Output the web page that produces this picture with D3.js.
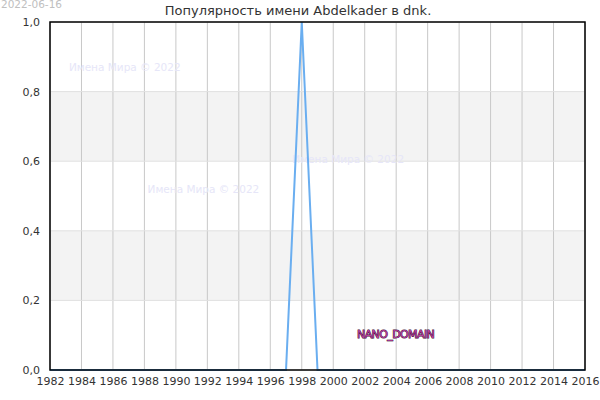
<!DOCTYPE html>
<html>
<head>
<meta charset="utf-8">
<script src="https://cdn.jsdelivr.net/npm/d3@7"></script>
<style>
    body { margin: 0; background: #fff; }
    svg text { font-family: "DejaVu Sans", sans-serif; }
</style>
</head>
<body>
<svg id="chart" width="600" height="400"></svg>
<script>
// data
let years = [1982, 1983, 1984, 1985, 1986, 1987, 1988, 1989, 1990, 1991, 1992, 1993, 1994, 1995,
    1996, 1997, 1998, 1999, 2000, 2001, 2002, 2003, 2004, 2005, 2006, 2007, 2008, 2009, 2010,
    2011, 2012, 2013, 2014, 2015, 2016];
let values = [0, 0, 0, 0, 0, 0, 0, 0, 0, 0, 0, 0, 0, 0,
    0, 0, 1, 0, 0, 0, 0, 0, 0, 0, 0, 0, 0, 0, 0,
    0, 0, 0, 0, 0, 0];
let xTicks = d3.range(1982, 2017, 2);
let yTicks = [0, 0.2, 0.4, 0.6, 0.8, 1.0];
let bands = [[0.2, 0.4], [0.6, 0.8]];
let watermarks = [
    {text: "Имена Мира © 2022", year: 1983.2, value: 0.86},
    {text: "Имена Мира © 2022", year: 1988.2, value: 0.51},
    {text: "Имена Мира © 2022", year: 1997.4, value: 0.595}
];

let svg = d3.select("#chart");
let margin = {top: 22, right: 15, bottom: 30, left: 50},
    width = 600 - margin.left - margin.right,
    height = 400 - margin.top - margin.bottom,
    g = svg.append("g").attr("transform", "translate(" + margin.left + "," + margin.top + ")");

let x = d3.scaleLinear().domain([1982, 2016]).range([0, width]);
let y = d3.scaleLinear().domain([0, 1]).range([height, 0]);

// alternating bands
g.selectAll(".band")
    .data(bands)
    .enter().append("rect")
    .attr("x", 0)
    .attr("width", width)
    .attr("y", d => y(d[1]))
    .attr("height", d => y(d[0]) - y(d[1]))
    .attr("fill", "#f3f3f3");

// grid
g.selectAll(".vgrid")
    .data(xTicks)
    .enter().append("line")
    .attr("x1", d => x(d)).attr("x2", d => x(d))
    .attr("y1", 0).attr("y2", height)
    .attr("stroke", "#c8c8c8");

g.selectAll(".hgrid")
    .data(yTicks)
    .enter().append("line")
    .attr("x1", 0).attr("x2", width)
    .attr("y1", d => y(d)).attr("y2", d => y(d))
    .attr("stroke", "#e0e0e0");

// watermarks
g.selectAll(".wm")
    .data(watermarks)
    .enter().append("text")
    .attr("x", d => x(d.year))
    .attr("y", d => y(d.value))
    .attr("font-size", 10.5)
    .attr("fill", "#e6e6f8")
    .text(d => d.text);

// line
let line = d3.line()
    .x((d, i) => x(years[i]))
    .y(d => y(d));

g.append("path")
    .datum(values)
    .attr("fill", "none")
    .attr("stroke", "#6aaef0")
    .attr("stroke-width", 2)
    .attr("d", line);

// frame
g.append("rect")
    .attr("width", width)
    .attr("height", height)
    .attr("fill", "none")
    .attr("stroke", "#000")
    .attr("stroke-width", 1.5);

// axes
let xAxis = g.append("g")
    .attr("transform", "translate(0," + height + ")")
    .call(d3.axisBottom(x).tickValues(xTicks).tickFormat(d3.format("d")).tickSize(0).tickPadding(7));
let yAxis = g.append("g")
    .call(d3.axisLeft(y).tickValues(yTicks).tickFormat(d => d.toFixed(1).replace(".", ",")).tickSize(0).tickPadding(10));
[xAxis, yAxis].forEach(a => {
    a.select(".domain").remove();
    a.selectAll("text").attr("font-size", 11).attr("fill", "#333").style("font-family", "DejaVu Sans, sans-serif");
});

// title and date
svg.append("text")
    .attr("x", 298).attr("y", 15)
    .attr("text-anchor", "middle")
    .attr("font-size", 13)
    .attr("fill", "#333")
    .text("Популярность имени Abdelkader в dnk.");

svg.append("text")
    .attr("x", 1).attr("y", 8)
    .attr("font-size", 10.5)
    .attr("fill", "#c0c0c0")
    .text("2022-06-16");

// domain label
svg.append("text")
    .attr("x", 357).attr("y", 338)
    .attr("font-size", 11)
    .attr("fill", "#b8409f")
    .attr("stroke", "#3a0c32")
    .attr("stroke-width", 0.9)
    .attr("paint-order", "stroke")
    .style("letter-spacing", "-0.6px")
    .text("NANO_DOMAIN");
</script>
</body>
</html>
